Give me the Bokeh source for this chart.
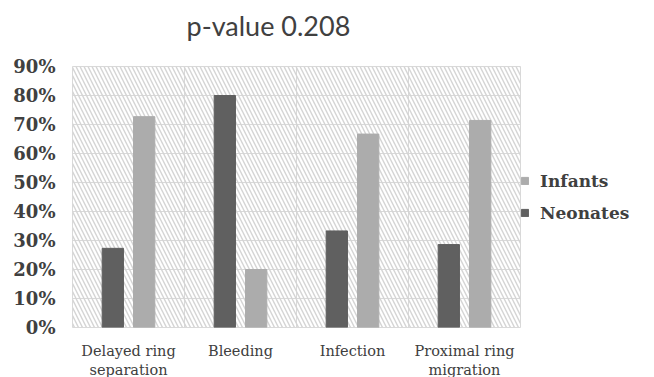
from bokeh.plotting import figure
from bokeh.models import (ColumnDataSource, FixedTicker, NumeralTickFormatter, BoxAnnotation,
                          Legend, LegendItem, Range1d, Title)
from bokeh.transform import dodge
from bokeh.embed import file_html
from bokeh.resources import INLINE

categories = ["Delayed ring\nseparation", "Bleeding", "Infection", "Proximal ring\nmigration"]
neonates = [0.273, 0.80, 0.333, 0.286]
infants = [0.727, 0.20, 0.667, 0.714]
y_ticks = [0, 0.1, 0.2, 0.3, 0.4, 0.5, 0.6, 0.7, 0.8, 0.9]
title_text = "p-value 0.208"

centers = [i + 0.5 for i in range(len(categories))]
src = ColumnDataSource(dict(x=centers, neo=neonates, inf=infants))

p = figure(frame_width=448, frame_height=261, output_backend="svg", toolbar_location=None,
           x_range=Range1d(0, len(categories)), y_range=Range1d(0, 0.9),
           min_border_left=72, min_border_right=0, min_border_bottom=50, min_border_top=66)

p.background_fill_color = "white"
p.border_fill_color = "white"
p.outline_line_color = "#d9d9d9"

# hatched plot area
p.add_layout(BoxAnnotation(fill_alpha=0, line_alpha=0, hatch_pattern="\\",
                           hatch_color="#d4d4d4", hatch_scale=8, hatch_weight=1.4,
                           level="underlay"))

r_neo = p.vbar(x=dodge("x", -0.14), top="neo", width=0.19, source=src, color="#606060")
r_inf = p.vbar(x=dodge("x", 0.14), top="inf", width=0.19, source=src, color="#acacac")

# axes
p.xaxis.ticker = FixedTicker(ticks=centers)
p.xaxis.major_label_overrides = {c: lab for c, lab in zip(centers, categories)}
p.xaxis.axis_line_color = None
p.xaxis.major_tick_line_color = None
p.xaxis.minor_tick_line_color = None
p.xaxis.major_tick_out = 0
p.xaxis.major_label_standoff = 15
p.xaxis.major_label_text_font = "DejaVu Serif"
p.xaxis.major_label_text_font_size = "14.5px"
p.xaxis.major_label_text_color = "#404040"

p.yaxis.ticker = FixedTicker(ticks=y_ticks)
p.yaxis.formatter = NumeralTickFormatter(format="0%")
p.yaxis.axis_line_color = None
p.yaxis.major_tick_line_color = None
p.yaxis.minor_tick_line_color = None
p.yaxis.major_tick_out = 0
p.yaxis.major_label_standoff = 17
p.yaxis.major_label_text_font = "DejaVu Serif"
p.yaxis.major_label_text_font_style = "bold"
p.yaxis.major_label_text_font_size = "18px"
p.yaxis.major_label_text_color = "#404040"

p.xgrid.ticker = FixedTicker(ticks=list(range(1, len(categories))))
p.xgrid.grid_line_color = "#d9d9d9"
p.ygrid.grid_line_color = "#d9d9d9"

p.title.text = title_text
p.title.text_font = "Lato"
p.title.text_font_style = "normal"
p.title.text_font_size = "27px"
p.title.text_color = "#404040"
p.title.align = "left"
p.title.vertical_align = "bottom"
p.title.offset = 114
p.title.standoff = 10

# spacer between title and plot area
p.add_layout(Title(text=" ", text_font_size="1px", standoff=17), "above")

legend = Legend(items=[LegendItem(label="Infants", renderers=[r_inf]),
                       LegendItem(label="Neonates", renderers=[r_neo])],
                location="left", border_line_color=None, background_fill_alpha=0,
                label_text_font="DejaVu Serif", label_text_font_style="bold",
                label_text_font_size="17px", label_text_color="#404040",
                glyph_width=9, glyph_height=9, spacing=12, label_standoff=11,
                margin=0, padding=12)
p.add_layout(legend, "right")

open("out.html", "w").write(file_html(p, INLINE))
